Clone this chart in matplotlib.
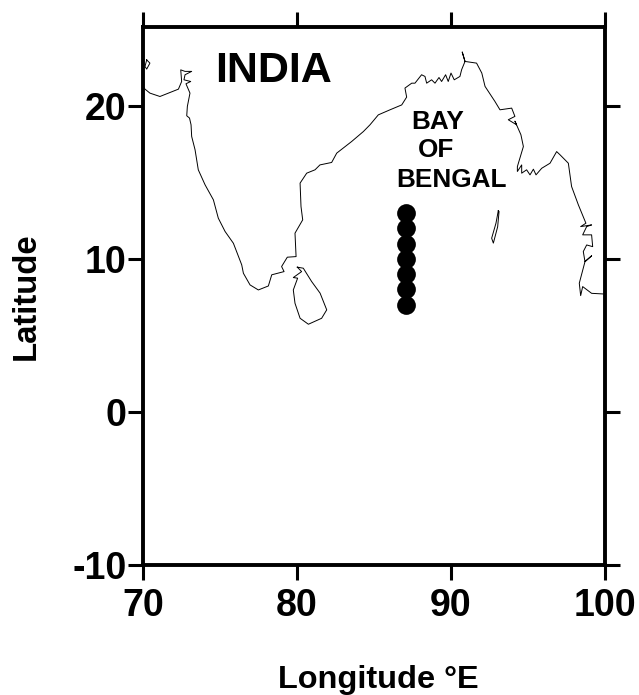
import matplotlib
matplotlib.use("Agg")
import matplotlib.pyplot as plt

plt.rcParams['font.family'] = ['Liberation Sans', 'DejaVu Sans']
plt.rcParams['font.weight'] = 'bold'
plt.rcParams['axes.unicode_minus'] = False

#coast, lon / lat
coast_lon = [70.0, 70.13, 70.45, 71.10, 71.65, 72.30, 72.51, 72.45, 72.73, 73.16, 72.73, 72.66, 73.10, 72.79, 73.05,
             72.88, 72.84, 73.02, 73.12, 73.16, 73.38, 73.59, 74.03, 74.57, 74.89, 75.33, 75.87, 76.41, 76.52, 76.95, 77.49,
             78.14, 78.36, 79.16, 79.0, 79.37, 79.94, 79.87, 80.37, 80.26, 80.2, 80.63, 81.17, 81.49, 82.25, 82.58,
             83.55, 84.31, 84.74, 85.28, 86.04, 86.8, 87.12, 87.01, 87.45, 87.66, 88.09, 88.31, 88.42, 88.74, 88.96,
             89.22, 89.39, 89.65, 89.82, 90.0, 90.21, 90.58, 90.69, 90.91, 90.73, 90.91, 91.66, 92.0, 92.21, 92.85,
             93.18, 93.94, 94.15, 93.72, 94.26, 94.15, 94.54, 94.7, 94.31, 94.31, 94.59, 94.59, 94.91, 95.13, 95.35,
             95.52, 95.89, 96.43, 96.86, 97.08, 97.62, 97.83, 98.27, 98.76, 98.42, 99.13, 98.81, 98.55, 99.13, 99.2,
             98.81, 98.59, 98.7, 99.13, 98.7, 98.33, 98.42, 98.55, 99.13, 99.85, 100.0]
coast_lat = [21.3, 21.09, 20.83, 20.61, 20.83, 21.09, 21.59, 22.35, 22.25, 22.25, 22.03, 21.70, 21.59, 21.44, 20.83,
             19.96, 19.35, 19.2, 18.76, 18.00, 17.13, 15.82, 14.84, 13.86, 12.66, 11.79, 11.02, 9.61, 9.06, 8.30, 7.97,
             8.23, 8.96, 9.17, 9.50, 10.11, 10.15, 11.68, 12.55, 13.42, 14.95, 15.6, 15.82, 16.14, 16.3, 16.91,
             17.67, 18.32, 18.76, 19.41, 19.74, 20.06, 20.57, 21.16, 21.48, 21.48, 22.03, 21.92, 21.48, 21.70, 21.48,
             21.85, 21.59, 22.03, 21.59, 22.14, 21.70, 21.92, 22.36, 22.9, 23.51, 22.9, 22.79, 22.14, 21.27, 20.29,
             19.74, 19.85, 19.31, 19.09, 18.76, 19.0, 18.11, 17.34, 16.03, 15.71, 16.14, 15.6, 15.82, 15.49, 15.86,
             15.49, 15.92, 16.25, 17.01, 16.8, 16.25, 14.73, 13.53, 12.33, 12.11, 12.22, 12.11, 11.57, 11.57, 10.8,
             10.91, 10.48, 9.82, 10.2, 9.82, 8.41, 7.6, 8.19, 7.75, 7.71, 7.71]

lanka_lon = [80.02, 80.41, 80.95, 81.5, 81.93, 81.6, 80.74, 80.2, 79.87, 79.76, 80.04, 79.76, 80.3, 80.02]
lanka_lat = [9.46, 9.39, 8.52, 7.76, 6.67, 6.12, 5.73, 6.12, 7.1, 7.97, 8.74, 8.78, 9.17, 9.46]

andaman_lon = [93.07, 93.12, 93.03, 92.75, 92.64, 92.92, 93.07]
andaman_lat = [13.14, 13.1, 12.1, 11.03, 11.35, 12.33, 13.14]

islet_lon = [70.24, 70.45, 70.24, 70.13, 70.24]
islet_lat = [23.0, 22.79, 22.4, 22.57, 23.0]

station_lon = [87.1] * 7
station_lat = [13, 12, 11, 10, 9, 8, 7]

xticks = [70, 80, 90, 100]
yticks = [-10, 0, 10, 20]

fig = plt.figure(figsize=(6.39, 6.95), dpi=100)
ax = fig.add_axes([143/639, 1-565/695, (605-143)/639, (565-27)/695])

ax.plot(coast_lon, coast_lat, color='black', lw=0.7)
ax.plot(lanka_lon, lanka_lat, color='black', lw=0.7)
ax.plot(andaman_lon, andaman_lat, color='black', lw=0.7)
ax.plot(islet_lon, islet_lat, color='black', lw=0.7)
ax.plot(station_lon, station_lat, 'o', color='black', ms=13.5, mew=0)

ax.set_xlim(70, 100)
ax.set_ylim(-10, 25.15)
ax.set_xticks(xticks)
ax.set_yticks(yticks)
ax.tick_params(axis='both', which='both', length=11, width=2.2, direction='out',
               top=True, right=True, labelsize=27)
ax.tick_params(axis='x', pad=5.5)
ax.tick_params(axis='y', pad=1)

for s in ax.spines.values():
    s.set_linewidth(2.8)

ax.text(78.5, 22.3, 'INDIA', fontsize=31, ha='center', va='center')
ax.text(89.16, 18.95, 'BAY', fontsize=18.8, ha='center', va='center')
ax.text(89.05, 17.12, 'OF', fontsize=18.8, ha='center', va='center')
ax.text(90.0, 15.17, 'BENGAL', fontsize=18.8, ha='center', va='center')

fig.text(378/639, 1-680/695, 'Longitude °E', fontsize=23.4, ha='center', va='center')
fig.text(26/639, 1-296/695, 'Latitude', fontsize=23.7, rotation=90, ha='center', va='center')

fig.savefig('out.png', dpi=100)
